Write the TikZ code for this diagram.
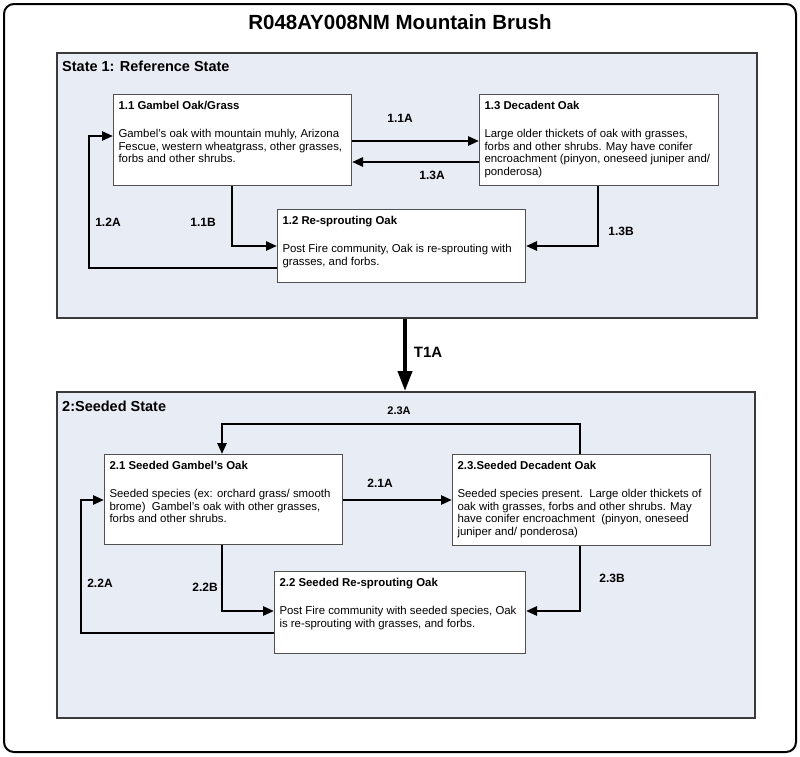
\documentclass[tikz,border=0pt]{standalone}
\usepackage{fontspec}
\setmainfont{Liberation Sans}
\usetikzlibrary{arrows.meta}
\definecolor{statefill}{HTML}{E8ECF5}
\definecolor{stateline}{HTML}{3A3A3A}
\definecolor{boxline}{HTML}{505050}
\newcommand{\statetext}[4]{\parbox[t][#2][t]{#1}{\raggedright\fontsize{11.4}{12.5}\selectfont\bfseries #3\par\vspace{15.5pt}\mdseries #4}}
\tikzset{
  statebox/.style={draw=stateline, fill=statefill, line width=1.8pt, inner sep=0pt, anchor=north west},
  sbox/.style={draw=boxline, fill=white, line width=1pt, inner xsep=5pt, inner ysep=7pt, anchor=north west},
  arr/.style={line width=2.6pt, -{Triangle[length=11pt,width=9pt]}},
  bigarr/.style={line width=4pt, -{Triangle[length=20pt,width=14pt]}},
  lbl/.style={font=\fontsize{12}{14}\selectfont\bfseries, inner sep=0pt},
  statelbl/.style={font=\fontsize{14.5}{17}\selectfont\bfseries, inner sep=0pt, anchor=west},
}
\begin{document}
\begin{tikzpicture}[x=1pt,y=-1pt]
\useasboundingbox (0,0) rectangle (800,756);
\fill[white] (0,0) rectangle (800,756);
\draw[line width=2pt, rounded corners=10pt] (4,4) rectangle (796,752);
\node[font=\fontsize{20.5}{24}\selectfont\bfseries, inner sep=0pt] (title) at (400,22) {R048AY008NM Mountain Brush};

% State 1
\node[statebox, minimum width=700pt, minimum height=265pt] (s1) at (56,52) {};
\node[statelbl] (s1lbl) at (62,66) {State 1: Reference State};
\node[sbox] (b11) at (113,94) {\statetext{228pt}{77pt}{1.1 Gambel Oak/Grass}{Gambel's oak with mountain muhly, Arizona\\ Fescue, western wheatgrass, other grasses,\\ forbs and other shrubs.}};
\node[sbox] (b13) at (479,94) {\statetext{229pt}{77pt}{1.3 Decadent Oak}{Large older thickets of oak with grasses,\\ forbs and other shrubs. May have conifer\\ encroachment (pinyon, oneseed juniper and/\\ ponderosa)}};
\node[sbox] (b12) at (277,209) {\statetext{238pt}{59pt}{1.2 Re-sprouting Oak}{Post Fire community, Oak is re-sprouting with\\ grasses, and forbs.}};

\draw[arr] (b11.east |- 0,141) -- (b13.west |- 0,141);
\draw[arr] (b13.west |- 0,162) -- (b11.east |- 0,162);
\draw[arr] (b11.south -| 232,0) |- (b12.west |- 0,246);
\draw[arr] (b12.west |- 0,268) -| (89,136) -- (b11.west |- 0,136);
\draw[arr] (b13.south -| 598,0) |- (b12.east |- 0,246);
\node[lbl] (l11a) at (400,118) {1.1A};
\node[lbl] (l13a) at (432,175) {1.3A};
\node[lbl] (l12a) at (108,222) {1.2A};
\node[lbl] (l11b) at (203,222) {1.1B};
\node[lbl] (l13b) at (621,231) {1.3B};

% State 2
\node[statebox, minimum width=698pt, minimum height=326pt] (s2) at (56,391) {};
\node[statelbl] (s2lbl) at (62,406) {2:Seeded State};
\node[sbox] (b21) at (104,454) {\statetext{228pt}{76pt}{2.1 Seeded Gambel's Oak}{Seeded species (ex: orchard grass/ smooth\\ brome)~~Gambel's oak with other grasses,\\ forbs and other shrubs.}};
\node[sbox] (b23) at (452,454) {\statetext{248pt}{77pt}{2.3.Seeded Decadent Oak}{Seeded species present.~~Large older thickets of\\ oak with grasses, forbs and other shrubs. May\\ have conifer encroachment~~(pinyon, oneseed\\ juniper and/ ponderosa)}};
\node[sbox] (b22) at (274,571) {\statetext{241pt}{68pt}{2.2 Seeded Re-sprouting Oak}{Post Fire community with seeded species, Oak\\ is re-sprouting with grasses, and forbs.}};

\draw[arr] (b21.east |- 0,500) -- (b23.west |- 0,500);
\draw[arr] (b23.north -| 580,0) -- (580,424) -| (b21.north -| 222,0);
\draw[arr] (b21.south -| 222,0) |- (b22.west |- 0,611);
\draw[arr] (b22.west |- 0,633) -| (81,500) -- (b21.west |- 0,500);
\draw[arr] (b23.south -| 580,0) |- (b22.east |- 0,611);
\node[lbl, font=\fontsize{11}{13}\selectfont\bfseries] (l23a) at (399,411) {2.3A};
\node[lbl] (l21a) at (380,483) {2.1A};
\node[lbl] (l22a) at (100,583) {2.2A};
\node[lbl] (l22b) at (205,587) {2.2B};
\node[lbl] (l23b) at (612,578) {2.3B};

% Transition
\draw[bigarr] (s1.south -| 405,0) -- (s2.north -| 405,0);
\node[lbl, font=\fontsize{15}{18}\selectfont\bfseries] (t1a) at (428,352) {T1A};
\end{tikzpicture}
\end{document}
